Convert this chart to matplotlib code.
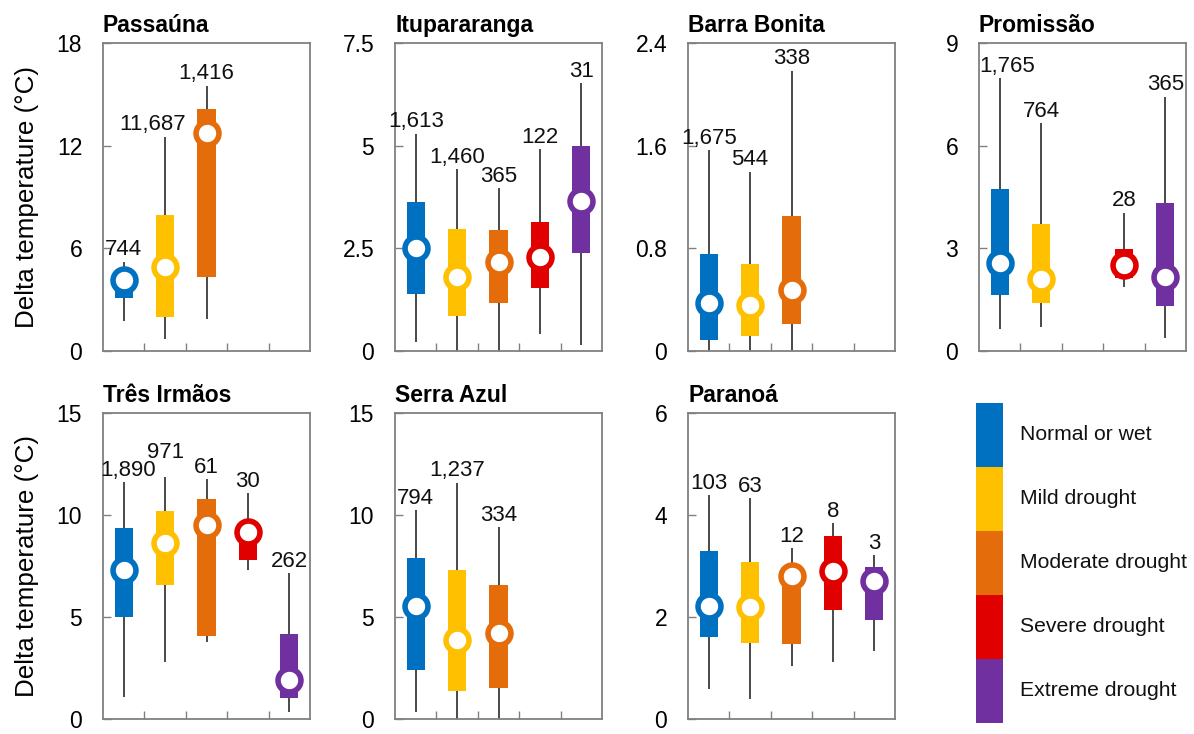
import numpy as np
import matplotlib
matplotlib.use("Agg")
import matplotlib.pyplot as plt
from matplotlib.ticker import FuncFormatter

plt.rcParams['font.family'] = ['Liberation Sans', 'DejaVu Sans']

classes = ["Normal or wet", "Mild drought", "Moderate drought",
           "Severe drought", "Extreme drought"]
colors = ["#0070C0", "#FFC000", "#E46C0A", "#E00000", "#7030A0"]

# each entry: [whisker low, q1, median, q3, whisker high]
passauna = [[1.75, 3.11, 4.18, 4.40, 5.22],
            [0.74, 2.00, 4.92, 7.94, 12.51],
            [1.87, 4.34, 12.75, 14.15, 15.49],
            None, None]
passauna_n = [744, 11687, 1416, None, None]

itupararanga = [[0.23, 1.40, 2.52, 3.63, 5.29],
                [0.00, 0.86, 1.81, 2.98, 4.42],
                [0.00, 1.17, 2.16, 2.94, 3.96],
                [0.43, 1.53, 2.29, 3.15, 4.91],
                [0.15, 2.38, 3.64, 4.99, 6.51]]
itupararanga_n = [1613, 1460, 365, 122, 31]

barra_bonita = [[0.00, 0.086, 0.376, 0.755, 1.565],
                [0.00, 0.119, 0.358, 0.682, 1.396],
                [0.00, 0.208, 0.475, 1.051, 2.182],
                None, None]
barra_bonita_n = [1675, 544, 338, None, None]

promissao = [[0.66, 1.65, 2.58, 4.73, 7.96],
             [0.71, 1.41, 2.10, 3.70, 6.65],
             None,
             [1.88, 2.14, 2.52, 2.99, 4.04],
             [0.39, 1.32, 2.17, 4.33, 7.42]]
promissao_n = [1765, 764, None, 28, 365]

tres_irmaos = [[1.07, 4.97, 7.27, 9.35, 11.59],
               [2.78, 6.54, 8.62, 10.19, 11.87],
               [3.75, 4.03, 9.48, 10.78, 11.74],
               [7.29, 7.76, 9.14, 9.60, 11.06],
               [0.34, 0.99, 1.88, 4.16, 7.13]]
tres_irmaos_n = [1890, 971, 61, 30, 262]

serra_azul = [[0.34, 2.37, 5.54, 7.89, 10.24],
              [0.00, 1.36, 3.83, 7.29, 11.57],
              [0.00, 1.51, 4.20, 6.54, 9.40],
              None, None]
serra_azul_n = [794, 1237, 334, None, None]

paranoa = [[0.57, 1.61, 2.20, 3.28, 4.38],
           [0.39, 1.48, 2.19, 3.08, 4.33],
           [1.04, 1.46, 2.79, 2.90, 3.34],
           [1.10, 2.13, 2.89, 3.58, 3.84],
           [1.33, 1.94, 2.70, 2.98, 3.21]]
paranoa_n = [103, 63, 12, 8, 3]

lakes = ["Passaúna", "Itupararanga", "Barra Bonita", "Promissão",
         "Três Irmãos", "Serra Azul", "Paranoá"]
lake_stats = [passauna, itupararanga, barra_bonita, promissao,
              tres_irmaos, serra_azul, paranoa]
lake_counts = [passauna_n, itupararanga_n, barra_bonita_n, promissao_n,
               tres_irmaos_n, serra_azul_n, paranoa_n]
y_max = [18, 7.5, 2.4, 9, 15, 15, 6]

# small shifts (points) for count labels that would otherwise crowd
label_nudge = {("Passaúna", 1): (-9, 0), ("Promissão", 0): (5, 0),
               ("Três Irmãos", 0): (3, 0), ("Três Irmãos", 1): (0, 9)}

W, H = 1194, 734
fig = plt.figure(figsize=(W / 100, H / 100), dpi=100)

col_left = [103, 395, 688, 979]
row_top = [42.7, 413]
row_h = [308.5, 305.5]
ax_w = 207

for i, name in enumerate(lakes):
    r, c = divmod(i, 4)
    ax = fig.add_axes([col_left[c] / W, (H - row_top[r] - row_h[r]) / H,
                       ax_w / W, row_h[r] / H])
    x = np.arange(len(classes)) + 0.5
    for j, st in enumerate(lake_stats[i]):
        if st is None:
            continue
        lo, q1, med, q3, hi = st
        ax.vlines(x[j], lo, hi, color="#3a3a3a", lw=1.3, zorder=1)
        ax.bar(x[j], q3 - q1, bottom=q1, width=0.44, color=colors[j],
               zorder=2)
        ax.plot(x[j], med, "o", ms=16.5, mfc="white", mec=colors[j],
                mew=4, zorder=3)
        dx, dy = label_nudge.get((name, j), (0, 0))
        ax.annotate(f"{lake_counts[i][j]:,}", (x[j], hi),
                    xytext=(dx, 1 + dy), textcoords="offset points",
                    ha="center", va="bottom", fontsize=16, color="#111111")

    ax.set_xlim(0, 5)
    ax.set_ylim(0, y_max[i])
    ax.set_xticks([1, 2, 3, 4])
    ax.set_xticklabels([])
    ax.set_yticks(np.linspace(0, y_max[i], 4))
    ax.yaxis.set_major_formatter(FuncFormatter(lambda v, p: f"{v:g}"))
    ax.tick_params(axis="both", direction="in", length=6, width=1,
                   color="#808080", labelsize=16.5, pad=15)
    ax.tick_params(axis="x", pad=2)
    for sp in ax.spines.values():
        sp.set_color("#808080")
        sp.set_linewidth(1.3)
    ax.set_title(name, loc="left", fontsize=16.5, fontweight="bold", pad=8)
    if c == 0:
        ax.set_ylabel("Delta temperature (°C)", fontsize=18.7, labelpad=13)

# colour key for the drought classes
leg = fig.add_axes([976 / W, (H - 723) / H, 218 / W, 320 / H])
leg.set_xlim(0, 218)
leg.set_ylim(0, len(classes))
for k, (lab, col) in enumerate(zip(classes, colors)):
    yb = len(classes) - 1 - k
    leg.bar(0, 1, bottom=yb, width=27, align="edge", color=col)
    leg.text(44, yb + 0.5, lab, va="center", ha="left", fontsize=15.2,
             color="#111111")
leg.axis("off")

fig.savefig("out.png", dpi=100, facecolor="white")
